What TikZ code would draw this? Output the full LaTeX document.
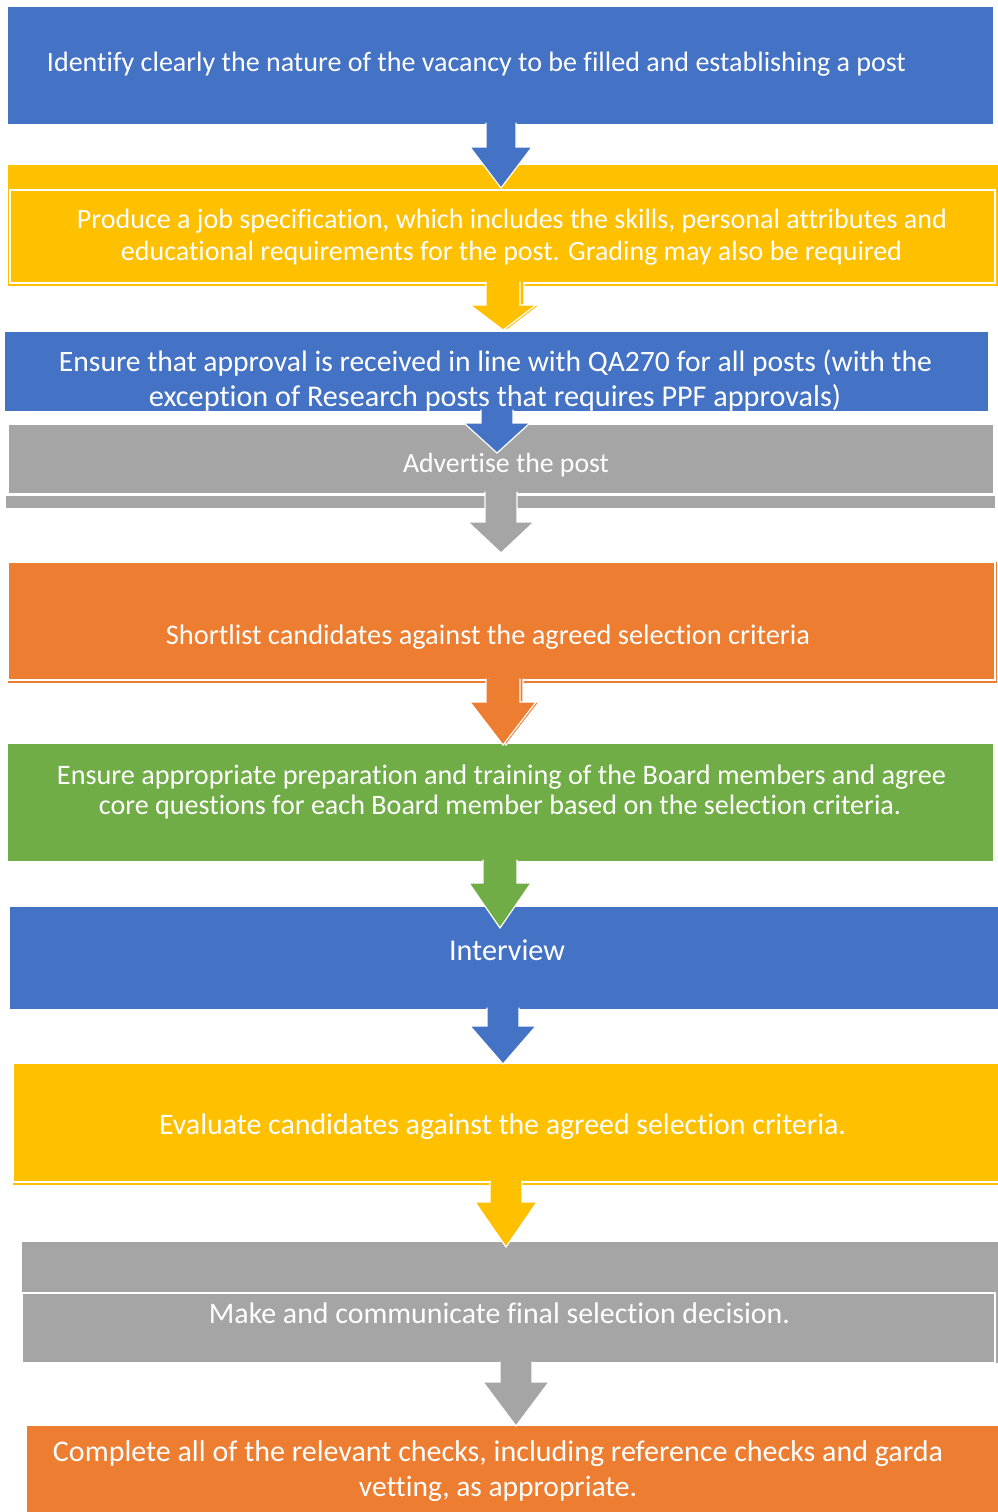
\documentclass[tikz,border=0pt]{standalone}
\usepackage{fontspec}
\setmainfont{Carlito}[Ligatures={NoCommon}]
\usetikzlibrary{calc}
\definecolor{cblue}{HTML}{4472C4}
\definecolor{cyel}{HTML}{FFC000}
\definecolor{cgray}{HTML}{A5A5A5}
\definecolor{corange}{HTML}{ED7D31}
\definecolor{cgreen}{HTML}{70AD47}
\tikzset{
  box/.style={rectangle, inner sep=0pt, outer sep=0pt, anchor=north west, draw=none},
  frame/.style={rectangle, inner sep=0pt, outer sep=0pt, anchor=north west, draw=white, line width=1.2pt},
  txt/.style={text=white, inner sep=0pt, anchor=base, font=\fontsize{20}{24}\selectfont},
  arrowline/.style={draw=white, line width=1.2pt, line join=miter},
}
\newcommand\fitw[2]{\resizebox{#1pt}{!}{#2}}
% from, to, centre x, shaft half width, head half width, head start y, tip offset, options
\newcommand\barrow[8]{%
  \filldraw[arrowline, #8] let \p1=(#1.south), \p2=(#2.north) in
    ({(#3-#4)*1pt},{\y1+1.5pt}) -- ({(#3-#4)*1pt},{-#6*1pt}) -- ({(#3-#5)*1pt},{-#6*1pt})
    -- ({#3*1pt},{\y2-(#7)*1pt}) -- ({(#3+#5)*1pt},{-#6*1pt}) -- ({(#3+#4)*1pt},{-#6*1pt})
    -- ({(#3+#4)*1pt},{\y1+1.5pt});
}
\begin{document}
\begin{tikzpicture}[x=1pt,y=-1pt]
\useasboundingbox (0,0) rectangle (998,1512);
% boxes
\node[box, fill=cblue, minimum width=985pt, minimum height=117pt] (b1) at (8,7) {};
\node[box, fill=cyel, minimum width=990pt, minimum height=121pt] (b2) at (8,165) {};
\node[frame, minimum width=985pt, minimum height=93pt] (b2in) at (10,190) {};
\node[box, fill=cblue, minimum width=983pt, minimum height=79pt] (b3) at (5,332) {};
\node[box, fill=cgray, draw=white, line width=0.8pt, minimum width=985pt, minimum height=69pt] (b4) at (8,424) {};
\node[box, fill=cgray, minimum width=989pt, minimum height=12pt] (b4s) at (6,496) {};
\node[box, fill=corange, minimum width=989pt, minimum height=121pt] (b5) at (8,562) {};
\node[frame, minimum width=987pt, minimum height=118pt] (b5in) at (8,562) {};
\node[box, fill=cgreen, minimum width=985pt, minimum height=117pt] (b6) at (8,744) {};
\node[box, fill=cblue, minimum width=988pt, minimum height=102pt] (b7) at (10,907) {};
\node[box, fill=cyel, minimum width=985pt, minimum height=122pt] (b8) at (13,1063) {};
\node[frame, minimum width=990pt, minimum height=119pt] (b8in) at (13,1063) {};
\node[box, fill=cgray, minimum width=976pt, minimum height=121pt] (b9) at (22,1242) {};
\node[frame, minimum width=973pt, minimum height=70pt] (b9in) at (22,1293) {};
\node[box, fill=corange, minimum width=971pt, minimum height=86pt] (b10) at (27,1426) {};
% arrows
\barrow{b1}{b2in}{501}{15}{31}{147}{-2}{fill=cblue}
\barrow{b2in}{b3}{503}{17}{33}{305}{-2}{fill=cyel, xshift=4pt}
\barrow{b2in}{b3}{503}{17}{33}{305}{-2}{fill=cyel}
\barrow{b3}{b4}{497}{16}{33}{423}{29}{fill=cblue}
\barrow{b4}{b5}{501}{16}{33}{522}{-9}{fill=cgray}
\barrow{b5in}{b6}{503}{17}{33}{702}{1}{fill=corange, xshift=3pt}
\barrow{b5in}{b6}{503}{17}{33}{702}{1}{fill=corange}
\barrow{b6}{b7}{500}{17}{31}{883}{21}{fill=cgreen}
\barrow{b7}{b8}{503}{16}{33}{1026}{1}{fill=cblue}
\barrow{b8in}{b9}{506}{16}{31}{1202}{5}{fill=cyel}
\barrow{b9}{b10}{516}{16}{33}{1382}{0}{fill=cgray}
% texts
\node[txt] (t1) at (476.5,71) {\fitw{859}{Identify clearly the nature of the vacancy to be filled and establishing a post}};
\node[txt] (t2a) at (512,228) {\fitw{870}{Produce a job specification, which includes the skills, personal attributes and}};
\node[txt] (t2b) at (511.5,260) {\fitw{781}{educational requirements for the post. Grading may also be required}};
\node[txt] (t3a) at (495.5,371) {\fitw{873}{Ensure that approval is received in line with QA270 for all posts (with the}};
\node[txt] (t3b) at (495,406) {\fitw{692}{exception of Research posts that requires PPF approvals)}};
\node[txt] (t4) at (506,472) {\fitw{206}{Advertise the post}};
\node[txt] (t5) at (488,644) {\fitw{644}{Shortlist candidates against the agreed selection criteria}};
\node[txt] (t6a) at (501.5,784) {\fitw{889}{Ensure appropriate preparation and training of the Board members and agree}};
\node[txt] (t6b) at (500,814) {\fitw{802}{core questions for each Board member based on the selection criteria.}};
\node[txt] (t7) at (507,960) {\fitw{116}{Interview}};
\node[txt] (t8) at (502.5,1134) {\fitw{687}{Evaluate candidates against the agreed selection criteria.}};
\node[txt] (t9) at (499.5,1323) {\fitw{581}{Make and communicate final selection decision.}};
\node[txt] (t10a) at (498,1461) {\fitw{890}{Complete all of the relevant checks, including reference checks and garda}};
\node[txt] (t10b) at (498,1496) {\fitw{278}{vetting, as appropriate.}};
\end{tikzpicture}
\end{document}
